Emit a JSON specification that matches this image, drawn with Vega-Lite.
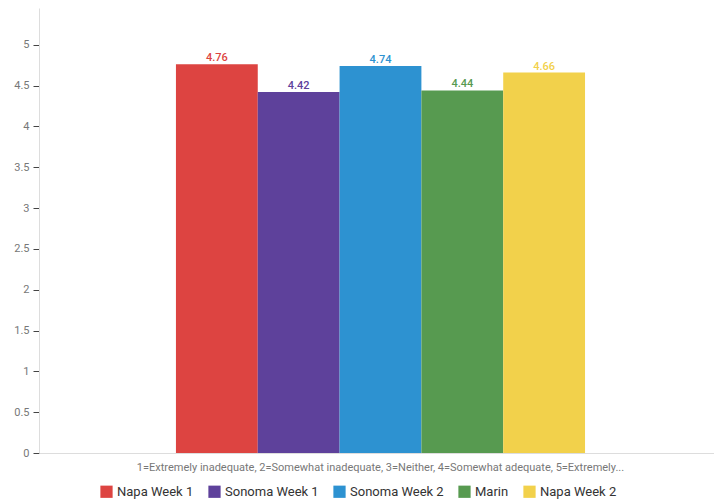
{
  "$schema": "https://vega.github.io/schema/vega-lite/v6.json",
  "autosize": {"type": "none"},
  "width": 675,
  "height": 445,
  "padding": {"left": 39, "top": 8, "right": 0, "bottom": 51},
  "background": "white",
  "config": {"view": {"stroke": null}, "font": "Roboto"},
  "data": {
    "values": [
      {"q": "1=Extremely inadequate, 2=Somewhat inadequate, 3=Neither, 4=Somewhat adequate, 5=Extremely...", "series": "Napa Week 1", "value": 4.76, "label": "4.76"},
      {"q": "1=Extremely inadequate, 2=Somewhat inadequate, 3=Neither, 4=Somewhat adequate, 5=Extremely...", "series": "Sonoma Week 1", "value": 4.42, "label": "4.42"},
      {"q": "1=Extremely inadequate, 2=Somewhat inadequate, 3=Neither, 4=Somewhat adequate, 5=Extremely...", "series": "Sonoma Week 2", "value": 4.74, "label": "4.74"},
      {"q": "1=Extremely inadequate, 2=Somewhat inadequate, 3=Neither, 4=Somewhat adequate, 5=Extremely...", "series": "Marin", "value": 4.44, "label": "4.44"},
      {"q": "1=Extremely inadequate, 2=Somewhat inadequate, 3=Neither, 4=Somewhat adequate, 5=Extremely...", "series": "Napa Week 2", "value": 4.66, "label": "4.66"}
    ]
  },
  "encoding": {
    "x": {
      "field": "q", "type": "nominal", "title": null,
      "scale": {"paddingInner": 0, "paddingOuter": 0.325, "align": 0.515},
      "axis": {"labelAngle": 0, "labelColor": "#777", "labelFontSize": 11, "labelPadding": 8, "ticks": false, "domainColor": "#ddd", "labelLimit": 700}
    },
    "xOffset": {"field": "series", "type": "nominal", "sort": ["Napa Week 1", "Sonoma Week 1", "Sonoma Week 2", "Marin", "Napa Week 2"], "scale": {"paddingInner": 0, "paddingOuter": 0}},
    "y": {
      "field": "value", "type": "quantitative", "title": null,
      "scale": {"domain": [0, 5.45], "nice": false},
      "axis": {"values": [0, 0.5, 1, 1.5, 2, 2.5, 3, 3.5, 4, 4.5, 5], "format": "~g", "grid": false, "labelColor": "#777", "labelFontSize": 11, "tickColor": "#444", "tickSize": 6, "domainColor": "#ddd", "labelPadding": 4}
    },
    "color": {
      "field": "series", "type": "nominal",
      "sort": ["Napa Week 1", "Sonoma Week 1", "Sonoma Week 2", "Marin", "Napa Week 2"],
      "scale": {"domain": ["Napa Week 1", "Sonoma Week 1", "Sonoma Week 2", "Marin", "Napa Week 2"], "range": ["#DD4441", "#5E419B", "#2D92D1", "#579A50", "#F2D14B"]},
      "legend": {"title": null, "orient": "none", "legendX": 61, "legendY": 477, "direction": "horizontal", "symbolType": "square", "symbolSize": 150, "symbolStrokeWidth": 0, "symbolOpacity": 1, "labelFontSize": 13, "labelColor": "#333", "columnPadding": 14}
    }
  },
  "layer": [
    {"mark": {"type": "bar"}},
    {"mark": {"type": "text", "baseline": "bottom", "dy": -1, "fontSize": 11, "fontWeight": 500}, "encoding": {"text": {"field": "label"}}}
  ]
}
